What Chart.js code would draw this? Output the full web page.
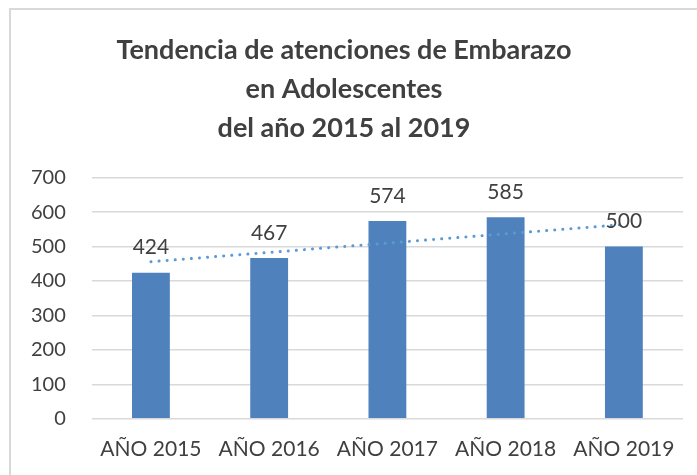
<!DOCTYPE html>
<html>
<head>
<meta charset="utf-8">
<script src="https://cdn.jsdelivr.net/npm/chart.js@4.4.0/dist/chart.umd.min.js"></script>
<style>
  html, body { margin: 0; padding: 0; background: #fff; overflow: hidden; }
  #frame { position: absolute; left: 9px; top: 8px; width: 900px; height: 700px; border: 2px solid #d9d9d9; }
  #wrap { position: absolute; left: 0; top: 0; width: 697px; height: 475px; }
</style>
</head>
<body>
<div id="frame"></div>
<div id="wrap"><canvas id="myChart"></canvas></div>
<script>
const categories = ['AÑO 2015', 'AÑO 2016', 'AÑO 2017', 'AÑO 2018', 'AÑO 2019']
const atenciones = [424, 467, 574, 585, 500]
// tendencia lineal
const tendencia = [456, 483, 510, 537, 564]
const yTicks = [0, 100, 200, 300, 400, 500, 600, 700]

const ctx = document.getElementById('myChart')

Chart.defaults.color = '#404040'
Chart.defaults.font.family = 'Lato, "Open Sans", sans-serif'

// etiquetas de datos encima de las barras
const valueLabels = {
  id: 'valueLabels',
  afterDatasetsDraw(chart) {
    const c = chart.ctx
    const meta = chart.getDatasetMeta(0)
    c.save()
    c.font = '21px Lato, "Open Sans", sans-serif'
    c.fillStyle = '#404040'
    c.textAlign = 'center'
    c.textBaseline = 'middle'
    meta.data.forEach((bar, i) => {
      c.fillText(atenciones[i], bar.x, bar.y - 25)
    })
    c.restore()
  }
}

new Chart(ctx, {
  type: 'bar',
  data: {
    labels: categories,
    datasets: [{
      label: 'Atenciones',
      data: atenciones,
      backgroundColor: '#4f81bd',
      categoryPercentage: 1,
      barPercentage: 0.32,
      order: 1
    }, {
      type: 'line',
      label: 'Tendencia',
      data: tendencia,
      borderColor: '#5b9bd5',
      borderWidth: 3,
      borderDash: [0.1, 8],
      borderCapStyle: 'round',
      pointRadius: 0,
      fill: false,
      order: 0
    }]
  },
  options: {
    responsive: true,
    maintainAspectRatio: false,
    animation: false,
    layout: { padding: { left: 5, right: 14, top: 0, bottom: 3 } },
    plugins: {
      legend: { display: false },
      tooltip: { enabled: false },
      title: {
        display: true,
        text: ['Tendencia de atenciones de Embarazo', 'en Adolescentes', 'del año 2015 al 2019'],
        color: '#404040',
        font: { size: 27, weight: 'bold', lineHeight: 1.44 },
        padding: { top: 31, bottom: 30 }
      }
    },
    scales: {
      x: {
        grid: { display: false },
        border: { display: false },
        ticks: { font: { size: 21 }, padding: 10, color: '#404040' }
      },
      y: {
        min: 0,
        max: 700,
        afterBuildTicks(axis) { axis.ticks = yTicks.map(v => ({ value: v })) },
        grid: { color: '#d9d9d9', lineWidth: 1.5, drawTicks: false },
        border: { display: false },
        ticks: { font: { size: 20 }, padding: 26, color: '#404040' }
      }
    }
  },
  plugins: [valueLabels]
})
</script>
</body>
</html>
